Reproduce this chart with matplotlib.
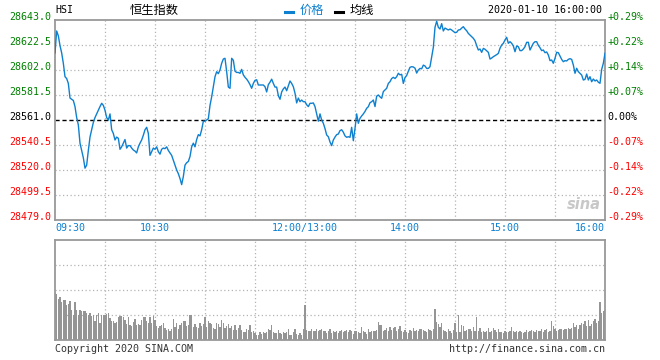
import matplotlib
matplotlib.use("Agg")
import matplotlib.pyplot as plt
from matplotlib.lines import Line2D
import numpy as np

# ---------------- data ----------------
prev_close = 28561.0
price_am = [
    28616, 28634, 28630, 28622, 28616, 28607.5, 28596.5, 28595, 28591, 28579,
    28578, 28577, 28572, 28563, 28557, 28542, 28536, 28530, 28521.5, 28524,
    28536, 28547, 28553, 28559, 28563, 28566, 28569, 28572, 28574.7, 28573,
    28569, 28563, 28561, 28566, 28553, 28550, 28544.6, 28547, 28546, 28537,
    28539, 28542, 28545, 28538, 28540, 28540, 28538, 28536.4, 28535.5, 28534,
    28539, 28542, 28544.6, 28548.5, 28553, 28555, 28550, 28532, 28535, 28538,
    28537, 28539, 28535, 28533, 28537, 28538, 28537.5, 28539, 28536, 28534,
    28532, 28528, 28524, 28520, 28517, 28513, 28508, 28514.6, 28524, 28526,
    28527, 28531, 28539, 28542, 28539, 28545, 28549, 28548, 28553, 28560,
    28560, 28561, 28562, 28573, 28580, 28588, 28596.5, 28600.6, 28599, 28602,
    28607.5, 28611, 28611.6, 28600.6, 28588, 28587, 28611.6, 28610, 28601, 28600,
    28600, 28599.3, 28602.5, 28598, 28596, 28594.5, 28592.5, 28590, 28587, 28591,
    28593.5, 28594, 28589.7, 28589.7, 28589.7, 28589.7, 28588.3, 28584, 28590, 28592,
    28594.5, 28591, 28588, 28588, 28581, 28578, 28584, 28586.5, 28588, 28585,
    28589, 28593, 28591, 28588.3, 28583, 28575, 28579, 28576, 28577.4, 28576,
    28576,
]
price_pm = [
    28573.5, 28572, 28574.7, 28574.7, 28575, 28572, 28566, 28560, 28566,
    28561, 28558.3, 28554, 28548.7, 28547.3, 28543, 28540, 28544.6, 28547, 28549,
    28549.5, 28552.3, 28553, 28551, 28548, 28546.8, 28547.3, 28546.8, 28555, 28544,
    28554, 28566, 28558.3, 28562.4, 28564.3, 28566, 28568, 28570.6, 28571.9, 28575.2,
    28576, 28577.4, 28572, 28580.5, 28581.5, 28580, 28578.8, 28584.3, 28585.6, 28587,
    28591, 28592.4, 28595, 28596, 28595, 28596.5, 28599.3, 28598, 28598.5, 28591,
    28595.8, 28597.5, 28601, 28604.2, 28604.7, 28604.5, 28603.5, 28599.5, 28602, 28603.3,
    28603, 28606, 28605.3, 28603.3, 28603.3, 28604.7, 28612.4, 28620.6, 28637, 28642,
    28637, 28635.6, 28640, 28634, 28636.4, 28635.6, 28634.8, 28635.6, 28634.8, 28633.7,
    28632.6, 28632.9, 28634.8, 28635, 28636.4, 28637.5, 28635.6, 28634.2, 28632, 28630.7,
    28629.3, 28628, 28626, 28622, 28618.4, 28619.2, 28616.5, 28619.7, 28619, 28617.8,
    28616.5, 28611, 28611.8, 28612.9, 28613.7, 28614.6, 28615.6, 28619.8, 28622.5, 28623.9,
    28626.6, 28628.8, 28623.9, 28625.2, 28623.9, 28621.7, 28617, 28621.7, 28621.1, 28617.9,
    28617.9, 28619.2, 28621.1, 28624.7, 28624.7, 28618.4, 28621.1, 28623.9, 28625.2, 28625.2,
    28622.2, 28620.3, 28617.9, 28618.4, 28616.2, 28616.8, 28614.3, 28609.7, 28610.2, 28607.5,
    28611.6, 28616.5, 28616.2, 28613.5, 28610.7, 28608.8, 28609.7, 28609.4, 28610.7, 28611.3,
    28610.7, 28606.1, 28599.3, 28603.4, 28600.6, 28599.3, 28597.9, 28593.8, 28594.3, 28598.7,
    28593.8, 28596.5, 28592.4, 28594.6, 28593, 28593.8, 28592, 28591.1, 28602.5, 28607.5,
    28615.7,
]
volume_am = [
    47, 46, 41, 43, 38, 40, 40, 35, 36, 39, 30, 25, 38, 30, 25, 30, 29, 29, 29, 27,
    25, 27, 24, 25, 19, 25, 27, 17, 25, 25,
    25, 26, 27, 22, 19, 19, 17, 18, 23, 24, 24, 23, 20, 16, 23, 15, 14, 18, 21, 15,
    16, 15, 20, 23, 23, 19, 17, 23, 17, 24,
    20, 14, 12, 14, 15, 17, 12, 10, 11, 9, 11, 21, 13, 17, 11, 15, 17, 19, 19, 14,
    15, 25, 25, 13, 16, 13, 12, 17, 14, 16,
    23, 13, 19, 17, 16, 12, 11, 17, 16, 13, 20, 17, 12, 14, 16, 12, 14, 10, 15, 10,
    12, 15, 10, 8, 8, 11, 10, 15, 8, 9,
    7, 5, 5, 8, 6, 8, 7, 8, 11, 10, 15, 8, 7, 7, 10, 7, 6, 8, 7, 8,
    11, 5, 5, 8, 11, 6, 5, 7, 5, 11,
    35,
]
volume_pm = [
    10, 9, 9, 11, 9, 9, 11, 9, 10, 11, 9,
    9, 7, 9, 11, 7, 9, 8, 9, 7, 9, 10, 8, 9, 10, 8, 10, 9, 6, 9,
    9, 8, 7, 13, 9, 8, 6, 11, 8, 9, 9, 9, 10, 18, 15, 15, 9, 10, 12, 9,
    13, 10, 12, 13, 9, 11, 14, 9, 8,
    10, 8, 7, 10, 9, 12, 9, 10, 9, 11, 11, 10, 9, 8, 11, 10, 9, 11,
    31, 18, 16, 13, 17, 10, 9, 8, 11, 9, 7, 10,
    17, 8, 25, 8, 15, 14, 9, 10, 11, 11, 9, 13, 9, 23, 9, 12, 8, 9, 8, 9,
    12, 8, 9, 12, 10, 8, 11, 8, 8, 7, 9, 8, 8, 9, 13, 9, 8, 9, 8, 9,
    8, 7, 8, 10, 8, 9, 10, 9, 8, 10, 9, 9, 11, 8, 10, 11, 8, 9, 19, 14,
    11, 9, 10, 11, 11, 10, 11, 11, 12, 11, 12, 17, 13, 15, 11, 15, 17, 16, 19, 14,
    20, 14, 16, 19, 21, 17, 19, 38, 27, 29, 30,
]
price_ticks = [28643.0, 28622.5, 28602.0, 28581.5, 28561.0, 28540.5, 28520.0, 28499.5, 28479.0]
pct_labels = ["+0.29%", "+0.22%", "+0.14%", "+0.07%", "0.00%", "-0.07%", "-0.14%", "-0.22%", "-0.29%"]
time_labels = ["09:30", "10:30", "12:00/13:00", "14:00", "15:00", "16:00"]
time_pos = [0, 60, 150, 210, 270, 330]

# ---------------- styling ----------------
W, H = 660, 360
BLUE = "#0e80d0"
GREEN = "#008000"
RED = "#ff0000"
GRAY = "#999999"
GRID = "#b4b4b4"
MONO = "DejaVu Sans Mono"
CJK = ["Noto Sans CJK SC", "DejaVu Sans"]

price = price_am + price_pm
volume = volume_am + volume_pm
minutes = np.arange(len(price))

fig = plt.figure(figsize=(W / 100, H / 100), dpi=100)
fig.patch.set_facecolor("white")

def fx(px):
    return px / W

def fy(py):
    return 1 - py / H

ax = fig.add_axes([fx(55), fy(220), fx(550), 200 / H])
axv = fig.add_axes([fx(55), fy(340), fx(550), 100 / H])

for a in (ax, axv):
    a.set_xlim(0, 330)
    a.set_xticks([])
    a.set_yticks([])
    for s in a.spines.values():
        s.set_color(GRAY)
        s.set_linewidth(1.3)
    for t in range(30, 330, 30):
        a.axvline(t, color=GRID, lw=0.9, ls=(0, (1, 2)), zorder=0)

ax.set_ylim(price_ticks[-1], price_ticks[0])
for v in price_ticks[1:-1]:
    if v != prev_close:
        ax.axhline(v, color=GRID, lw=0.9, ls=(0, (1, 2)), zorder=0)
ax.axhline(prev_close, color="black", lw=1.0, ls=(0, (3, 2)), zorder=1)

ax.plot(minutes, price, color=BLUE, lw=1.0, zorder=3)

# volume
axv.set_ylim(0, 100)
for v in (25, 50, 75):
    axv.axhline(v, color=GRID, lw=0.9, ls=(0, (1, 2)), zorder=0)
axv.bar(np.arange(len(volume)), volume, width=0.65, color="#959595", zorder=2,
        linewidth=0, antialiased=False)

# y labels
for v, p in zip(price_ticks, pct_labels):
    c = GREEN if v > prev_close else (RED if v < prev_close else "black")
    ax.annotate(f"{v:.1f}", xy=(0, v), xycoords=("axes fraction", "data"),
                xytext=(-2.5, 2.2), textcoords="offset points",
                ha="right", va="center", fontsize=7.2, family=MONO, color=c)
    ax.annotate(p, xy=(1, v), xycoords=("axes fraction", "data"),
                xytext=(1.5, 2.2), textcoords="offset points",
                ha="left", va="center", fontsize=7.2, family=MONO, color=c)

# x labels
for i, (t, lab) in enumerate(zip(time_pos, time_labels)):
    ha = "left" if i == 0 else ("right" if i == len(time_pos) - 1 else "center")
    ax.annotate(lab, xy=(t, 0), xycoords=("data", "axes fraction"),
                xytext=(0, -6), textcoords="offset points",
                ha=ha, va="center", fontsize=7.2, family=MONO, color=BLUE)

# header
fig.text(fx(55), fy(10), "HSI", ha="left", va="center", fontsize=7.2, family=MONO, color="black")
fig.text(fx(154), fy(10), "恒生指数", ha="center", va="center", fontsize=8.8, family=CJK, color="black")
fig.add_artist(Line2D([fx(285), fx(293)], [fy(12), fy(12)], color=BLUE, lw=2.2))
fig.text(fx(300), fy(10), "价格", ha="left", va="center", fontsize=8.8, family=CJK, color=BLUE)
fig.add_artist(Line2D([fx(335), fx(343)], [fy(12), fy(12)], color="black", lw=2.2))
fig.text(fx(350), fy(10), "均线", ha="left", va="center", fontsize=8.8, family=CJK, color="black")
fig.text(fx(602), fy(10), "2020-01-10 16:00:00", ha="right", va="center", fontsize=7.2, family=MONO, color="black")

# watermark
ax.text(0.993, 0.08, "sina", transform=ax.transAxes, ha="right", va="center",
        fontsize=10.5, style="italic", weight="bold", color="#c8c8c8", family="DejaVu Sans")

# footer
fig.text(fx(55), fy(349), "Copyright 2020 SINA.COM", ha="left", va="center", fontsize=7.2, family=MONO, color="#333333")
fig.text(fx(605), fy(349), "http://finance.sina.com.cn", ha="right", va="center", fontsize=7.2, family=MONO, color="#333333")

fig.savefig("out.png", dpi=100, facecolor="white")
